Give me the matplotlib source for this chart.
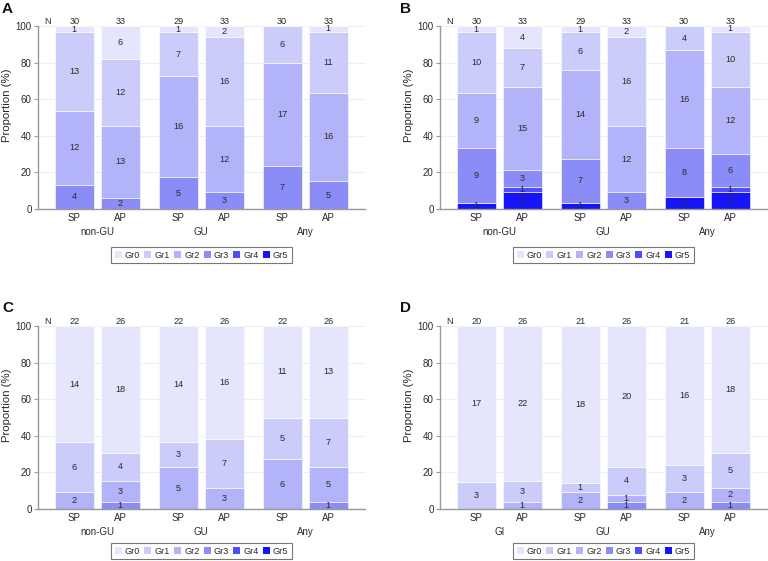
import matplotlib
matplotlib.use("Agg")
import matplotlib.pyplot as plt
import numpy as np
from matplotlib.patches import Patch
import matplotlib.transforms as mtransforms

plt.rcParams['font.family'] = ['Liberation Sans', 'DejaVu Sans']

grades = ["Gr0", "Gr1", "Gr2", "Gr3", "Gr4", "Gr5"]
grade_colors = ["#e5e5fb", "#ccccfa", "#b3b3f9", "#8c8cf8", "#4d4dfb", "#1515f8"]
bar_labels = ["SP", "AP", "SP", "AP", "SP", "AP"]
groups_abc = ["non-GU", "GU", "Any"]
groups_d = ["GI", "GU", "Any"]

# counts per grade, bars: g1 SP, g1 AP, g2 SP, g2 AP, g3 SP, g3 AP
A_gr0 = [1, 6, 1, 2, 0, 1]
A_gr1 = [13, 12, 7, 16, 6, 11]
A_gr2 = [12, 13, 16, 12, 17, 16]
A_gr3 = [4, 2, 5, 3, 7, 5]
A_gr4 = [0, 0, 0, 0, 0, 0]
A_gr5 = [0, 0, 0, 0, 0, 0]

B_gr0 = [1, 4, 1, 2, 0, 1]
B_gr1 = [10, 7, 6, 16, 4, 10]
B_gr2 = [9, 15, 14, 12, 16, 12]
B_gr3 = [9, 3, 7, 3, 8, 6]
B_gr4 = [0, 1, 0, 0, 0, 1]
B_gr5 = [1, 3, 1, 0, 2, 3]

C_gr0 = [14, 18, 14, 16, 11, 13]
C_gr1 = [6, 4, 3, 7, 5, 7]
C_gr2 = [2, 3, 5, 3, 6, 5]
C_gr3 = [0, 1, 0, 0, 0, 1]
C_gr4 = [0, 0, 0, 0, 0, 0]
C_gr5 = [0, 0, 0, 0, 0, 0]

D_gr0 = [17, 22, 18, 20, 16, 18]
D_gr1 = [3, 3, 1, 4, 3, 5]
D_gr2 = [0, 1, 2, 1, 2, 2]
D_gr3 = [0, 0, 0, 1, 0, 1]
D_gr4 = [0, 0, 0, 0, 0, 0]
D_gr5 = [0, 0, 0, 0, 0, 0]

panels = [
    ("A", [A_gr0, A_gr1, A_gr2, A_gr3, A_gr4, A_gr5], groups_abc),
    ("B", [B_gr0, B_gr1, B_gr2, B_gr3, B_gr4, B_gr5], groups_abc),
    ("C", [C_gr0, C_gr1, C_gr2, C_gr3, C_gr4, C_gr5], groups_abc),
    ("D", [D_gr0, D_gr1, D_gr2, D_gr3, D_gr4, D_gr5], groups_d),
]

W, H = 768, 561
fig = plt.figure(figsize=(W / 100, H / 100), dpi=100)

ax_w = 327 / W
ax_h = 183 / H
ax_pos = {
    "A": (38 / W, 1 - 209 / H),
    "B": (440 / W, 1 - 209 / H),
    "C": (38 / W, 1 - 509 / H),
    "D": (440 / W, 1 - 509 / H),
}
letter_pos = {"A": (2 / W, 1 - 2 / H), "B": (400 / W, 1 - 2 / H),
              "C": (2 / W, 1 - 301 / H), "D": (400 / W, 1 - 301 / H)}
legend_y = {"A": 1 - 255 / H, "B": 1 - 255 / H, "C": 1 - 551 / H, "D": 1 - 551 / H}

pos = np.array([0, 1, 2.26, 3.26, 4.52, 5.52])
bw = 0.85
txt_col = "#2a2a2a"
spine_col = "#999999"
fs_bar = 6.6
fs_tick = 7.0

for name, data, groups in panels:
    x0, y0 = ax_pos[name]
    ax = fig.add_axes([x0, y0, ax_w, ax_h])
    counts = np.array(data, dtype=float)  # grade x bar
    n = counts.sum(axis=0)
    pct = counts / n * 100
    # stack from highest grade at bottom to Gr0 at top
    bottom = np.zeros(len(pos))
    for g in range(5, -1, -1):
        ax.bar(pos, pct[g], bw, bottom=bottom, color=grade_colors[g],
               edgecolor="white", linewidth=0.4, zorder=2)
        for i in range(len(pos)):
            if counts[g, i] > 0:
                ax.text(pos[i], bottom[i] + pct[g, i] / 2, f"{int(counts[g, i])}",
                        ha="center", va="center", fontsize=fs_bar, color=txt_col, zorder=3)
        bottom = bottom + pct[g]
    ax.set_xlim(-0.79, 6.32)
    ax.set_ylim(0, 100)
    ax.set_yticks([0, 20, 40, 60, 80, 100])
    ax.yaxis.grid(True, color="#e9eff3", linewidth=0.8, zorder=0)
    ax.set_axisbelow(True)
    ax.set_xticks(pos)
    ax.set_xticklabels(bar_labels)
    ax.tick_params(axis="x", length=0, pad=3, labelsize=fs_tick, labelcolor=txt_col)
    ax.tick_params(axis="y", length=3, width=0.8, color=spine_col, pad=1.5,
                   labelsize=fs_tick, labelcolor=txt_col)
    for s in ["top", "right"]:
        ax.spines[s].set_visible(False)
    for s in ["left", "bottom"]:
        ax.spines[s].set_color(spine_col)
        ax.spines[s].set_linewidth(1.0)
    ax.set_ylabel("Proportion (%)", fontsize=8.2, color=txt_col)
    ax.yaxis.set_label_coords(-0.081, 0.565)
    trans = mtransforms.blended_transform_factory(ax.transData, ax.transAxes)
    for k, gname in enumerate(groups):
        xc = (pos[2 * k] + pos[2 * k + 1]) / 2
        ax.annotate(gname, xy=(xc, 0), xycoords=trans, xytext=(0, -16.5),
                    textcoords="offset points", ha="center", va="center",
                    fontsize=fs_tick, color=txt_col, annotation_clip=False)
    for i in range(len(pos)):
        ax.annotate(f"{int(n[i])}", xy=(pos[i], 1), xycoords=trans, xytext=(0, 3.2),
                    textcoords="offset points", ha="center", va="center",
                    fontsize=fs_bar, color=txt_col, annotation_clip=False)
    ax.annotate("N", xy=(-0.59, 1), xycoords=trans, xytext=(0, 3.2),
                textcoords="offset points", ha="center", va="center",
                fontsize=fs_bar, color=txt_col, annotation_clip=False)
    lx, ly = letter_pos[name]
    fig.text(lx, ly, name, fontsize=11, fontweight="bold", ha="left", va="top",
             color="#111111")
    handles = [Patch(facecolor=grade_colors[g], edgecolor="none", label=grades[g])
               for g in range(6)]
    cx = x0 + ax_w / 2
    leg = fig.legend(handles=handles, loc="center", bbox_to_anchor=(cx, legend_y[name]),
                     ncol=6, fontsize=6.6, frameon=True, fancybox=False,
                     handlelength=0.78, handleheight=0.78, handletextpad=0.33,
                     columnspacing=0.45, borderpad=0.4, borderaxespad=0)
    leg.get_frame().set_edgecolor("#555555")
    leg.get_frame().set_linewidth(0.8)
    for t in leg.get_texts():
        t.set_color(txt_col)

fig.savefig("out.png", dpi=100)
